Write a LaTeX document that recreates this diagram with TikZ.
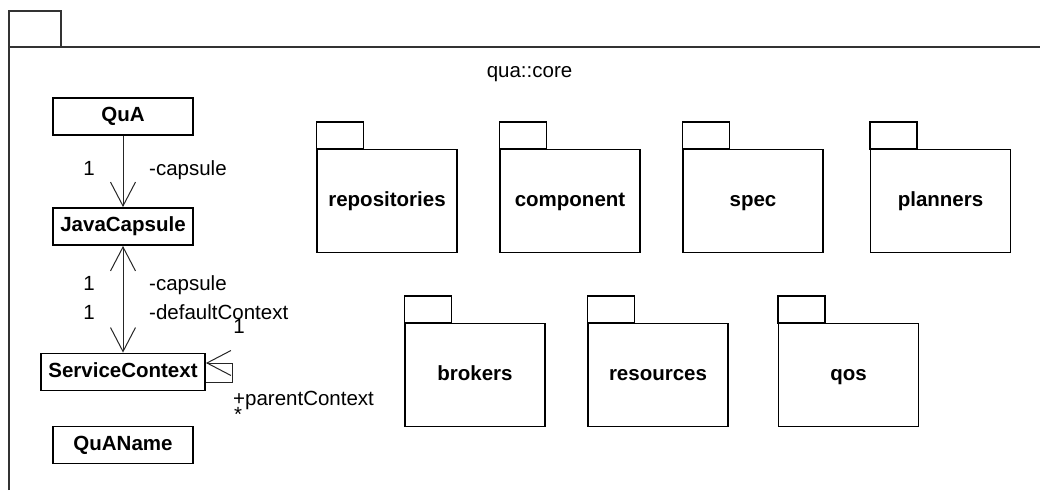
\documentclass[tikz,border=0pt]{standalone}
\usepackage{fontspec}
\setmainfont{Liberation Sans}
\usetikzlibrary{arrows.meta}

\begin{document}
\begin{tikzpicture}[x=1pt,y=-1pt,
  every node/.style={font=\fontsize{20.5pt}{24pt}\selectfont, inner sep=0pt, text height=14.5pt, text depth=4pt},
  classbox/.style={draw, line width=1.8pt, minimum width=140pt, minimum height=37pt, font=\fontsize{20.5pt}{24pt}\selectfont\bfseries},
  pkgbody/.style={draw, line width=1.5pt, minimum width=140pt, minimum height=103pt, font=\fontsize{20.5pt}{24pt}\selectfont\bfseries},
  pkgtab/.style={draw, line width=1.5pt},
  assoc/.style={draw=black!85, line width=1pt},
  tipbarb/.tip={Straight Barb[length=24pt,width=25pt,line width=1pt]},
  lbl/.style={anchor=west},
  frame/.style={draw=black!80, line width=1.2pt},
]
\useasboundingbox (0,0) rectangle (1040,490);

% enclosing package qua::core: tab, top rule and left side
\draw[frame] (9,11) rectangle (61,47);
\draw[frame] (9,490) -- (9,47) -- (1040,47);
\node (title) at (529.5,72) {qua::core};

% classes
\node[classbox] (qua) at (123,116.5) {QuA};
\node[classbox] (jc) at (123,226.5) {JavaCapsule};
\node[classbox, minimum width=164pt] (sc) at (123,372) {ServiceContext};
\node[classbox] (qn) at (123,445) {QuAName};

% associations
\draw[assoc, -tipbarb] (qua.south) -- (jc.north);
\draw[assoc, tipbarb-tipbarb] (jc.south) -- (sc.north);
\draw[assoc, -tipbarb] ([yshift=-10pt]sc.east) -- ++(27,0) |- ([yshift=9pt]sc.east);

% association end labels
\node (m1) at (89,170) {1};
\node[lbl] (r1) at (149,170) {-capsule};
\node (m2) at (89,285) {1};
\node[lbl] (r2) at (149,285) {-capsule};
\node (m3) at (89,314) {1};
\node[lbl] (r3) at (149,314) {-defaultContext};
\node (m4) at (239,328) {1};
\node[lbl] (r4) at (233,400) {+parentContext};
\node (m5) at (238,416) {*};

% nested packages
\newcommand\umlpkg[3]{%
  \node[pkgbody] (#1) at (#2) {#3};
  \draw[pkgtab] (#1.north west) rectangle ++(47,-27);
}
\umlpkg{repositories}{387,201}{repositories}
\umlpkg{component}{570,201}{component}
\umlpkg{spec}{753,201}{spec}
\umlpkg{planners}{940.5,201}{planners}
\umlpkg{brokers}{475,375}{brokers}
\umlpkg{resources}{658,375}{resources}
\umlpkg{qos}{848.5,375}{qos}
\end{tikzpicture}
\end{document}
